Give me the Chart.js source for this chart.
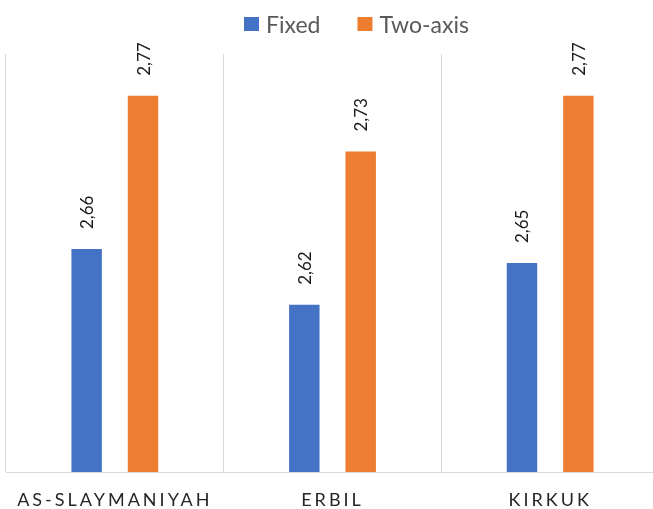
<!DOCTYPE html>
<html>
<head>
<meta charset="utf-8">
<script src="https://cdn.jsdelivr.net/npm/chart.js@4/dist/chart.umd.min.js"></script>
<style>
  html, body { margin: 0; padding: 0; overflow: hidden; background: #ffffff; }
  canvas { display: block; }
</style>
</head>
<body>
<canvas id="chart" width="665" height="509"></canvas>
<script>
// Regions and the two series
const regions = ['AS-SLAYMANIYAH', 'ERBIL', 'KIRKUK'];
const seriesNames = ['Fixed', 'Two-axis'];
const fixedValues = [2.66, 2.62, 2.65];
const twoAxisValues = [2.77, 2.73, 2.77];
const seriesColors = ['#4472C4', '#ED7D31'];

const FONT = 'Lato, "Open Sans", "Liberation Sans", sans-serif';

// Comma decimal format, e.g. 2,66
const fmt = v => v.toFixed(2).replace('.', ',');

// Vertical value labels above each bar
const barValueLabels = {
  id: 'barValueLabels',
  afterDatasetsDraw(chart) {
    const ctx = chart.ctx;
    ctx.save();
    ctx.font = '17px ' + FONT;
    ctx.fillStyle = '#1a1a1a';
    ctx.textAlign = 'left';
    ctx.textBaseline = 'middle';
    chart.data.datasets.forEach((ds, di) => {
      chart.getDatasetMeta(di).data.forEach((bar, i) => {
        ctx.save();
        ctx.translate(bar.x + 1, bar.y - 20);
        ctx.rotate(-Math.PI / 2);
        ctx.fillText(fmt(ds.data[i]), 0, 0);
        ctx.restore();
      });
    });
    ctx.restore();
  }
};

// Legend row at the top: colour square followed by the series name
const topLegend = {
  id: 'topLegend',
  afterDraw(chart) {
    const ctx = chart.ctx;
    ctx.save();
    ctx.font = '23px ' + FONT;
    ctx.textBaseline = 'alphabetic';
    ctx.textAlign = 'left';
    let x = 244;
    chart.data.datasets.forEach(ds => {
      ctx.fillStyle = ds.backgroundColor;
      ctx.fillRect(x, 17, 15, 14);
      x += 15 + 7;
      ctx.fillStyle = '#595959';
      ctx.fillText(ds.label, x, 33);
      x += ctx.measureText(ds.label).width + 37;
    });
    ctx.restore();
  }
};

// Letter-spaced category labels on the x axis
const spacedTicks = {
  id: 'spacedTicks',
  afterLayout(chart) {
    const sx = chart.scales.x;
    if (sx && !sx._spaced) {
      const orig = sx.drawLabels.bind(sx);
      sx.drawLabels = function (area) {
        const ctx = this.ctx;
        ctx.save();
        ctx.letterSpacing = '3px';
        orig(area);
        ctx.restore();
      };
      sx._spaced = true;
    }
  }
};

new Chart(document.getElementById('chart'), {
  type: 'bar',
  data: {
    labels: regions,
    datasets: [
      { label: seriesNames[0], data: fixedValues, backgroundColor: seriesColors[0] },
      { label: seriesNames[1], data: twoAxisValues, backgroundColor: seriesColors[1] }
    ]
  },
  options: {
    responsive: false,
    devicePixelRatio: 1,
    animation: false,
    layout: { padding: { top: 54, left: 6, right: 6, bottom: 0 } },
    datasets: {
      bar: { categoryPercentage: 0.518, barPercentage: 0.54 }
    },
    plugins: {
      legend: { display: false },
      tooltip: { enabled: false }
    },
    scales: {
      x: {
        grid: { display: true, color: '#d9d9d9', lineWidth: 1, drawTicks: false, offset: true },
        border: { display: true, color: '#d9d9d9', width: 1 },
        ticks: {
          padding: 19,
          color: '#262626',
          font: { family: FONT, size: 18, lineHeight: 1 },
          maxRotation: 0
        },
        afterFit(scale) { scale.height = 37; }
      },
      y: {
        display: false,
        min: 2.5,
        max: 2.8
      }
    }
  },
  plugins: [barValueLabels, topLegend, spacedTicks]
});
</script>
</body>
</html>
